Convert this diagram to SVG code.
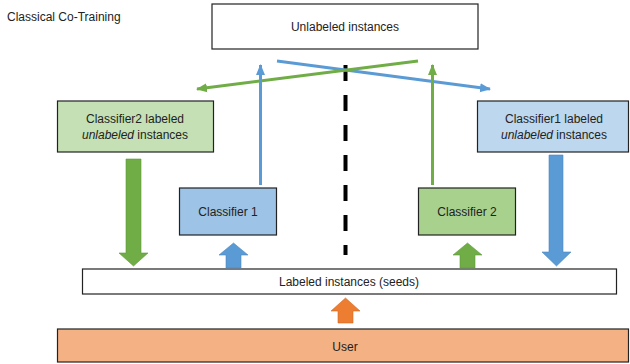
<svg xmlns="http://www.w3.org/2000/svg" width="630" height="364" viewBox="0 0 630 364">
<style>
text{font-family:"Liberation Sans",Arial,sans-serif;font-size:12px;fill:#222;text-anchor:middle}
.box{stroke:#222;stroke-width:1.2}
.bl{stroke:#5b9bd5;stroke-width:3;fill:none}
.gl{stroke:#70ad47;stroke-width:3;fill:none}
.ba{fill:#5b9bd5;stroke:#4a86c0;stroke-width:0.6}
.ga{fill:#70ad47;stroke:#5f9a3a;stroke-width:0.6}
.oa{fill:#ed7d31;stroke:#d06a25;stroke-width:0.6}
</style>
<defs>
<marker id="mb" markerUnits="userSpaceOnUse" markerWidth="12" markerHeight="12" viewBox="0 0 12 12" refX="10" refY="6" orient="auto"><path d="M0,1.5 L11,6 L0,10.5 Z" fill="#5b9bd5"/></marker>
<marker id="mg" markerUnits="userSpaceOnUse" markerWidth="12" markerHeight="12" viewBox="0 0 12 12" refX="10" refY="6" orient="auto"><path d="M0,1.5 L11,6 L0,10.5 Z" fill="#70ad47"/></marker>
</defs>
<rect width="630" height="364" fill="#fff"/>
<text x="7" y="21" style="text-anchor:start">Classical Co-Training</text>

<g id="unlabeled">
<rect class="box" x="212" y="4" width="266" height="45" fill="#fff"/>
<text x="345" y="31">Unlabeled instances</text>
</g>
<g id="c2labeled">
<rect class="box" x="57.5" y="101" width="156" height="51" fill="#c5e0b4"/>
<text x="135" y="123">Classifier2 labeled</text>
<text x="135" y="139"><tspan font-style="italic">unlabeled</tspan> instances</text>
</g>
<g id="c1labeled">
<rect class="box" x="477.5" y="101" width="151" height="51" fill="#bdd7ee"/>
<text x="554" y="123">Classifier1 labeled</text>
<text x="554" y="139"><tspan font-style="italic">unlabeled</tspan> instances</text>
</g>
<g id="classifier1">
<rect class="box" x="179.5" y="188" width="97" height="47" fill="#9dc3e6"/>
<text x="228" y="216">Classifier 1</text>
</g>
<g id="classifier2">
<rect class="box" x="418.5" y="188" width="97" height="47" fill="#a9d18e"/>
<text x="467" y="216">Classifier 2</text>
</g>
<g id="labeled">
<rect class="box" x="82.5" y="269" width="534" height="25" fill="#fff"/>
<text x="349" y="286">Labeled instances (seeds)</text>
</g>
<g id="user">
<rect class="box" x="57.5" y="329" width="571" height="33" fill="#f4b183"/>
<text x="345" y="351">User</text>
</g>

<g id="connectors">
<line x1="345.5" y1="65" x2="345.5" y2="255" stroke="#000" stroke-width="4" stroke-dasharray="16 14"/>
<line class="bl" x1="277" y1="61" x2="490" y2="89" marker-end="url(#mb)"/>
<line class="gl" x1="418" y1="61" x2="197" y2="89" marker-end="url(#mg)"/>
<line class="bl" x1="260.5" y1="185" x2="260.5" y2="65" marker-end="url(#mb)"/>
<line class="gl" x1="432.5" y1="185" x2="432.5" y2="65" marker-end="url(#mg)"/>
<polygon class="ga" points="126,159 141,159 141,253 148,253 133.5,266 119,253 126,253"/>
<polygon class="ba" points="549,155 563,155 563,252 571,252 556.5,266 542,252 549,252"/>
<polygon class="ba" points="233.5,243 248,255 241,255 241,268 226,268 226,255 219,255"/>
<polygon class="ga" points="467.5,243 482,255 475,255 475,268 460,268 460,255 453,255"/>
<polygon class="oa" points="345.5,298 360,311 353,311 353,323 338,323 338,311 331,311"/>
</g>
</svg>
